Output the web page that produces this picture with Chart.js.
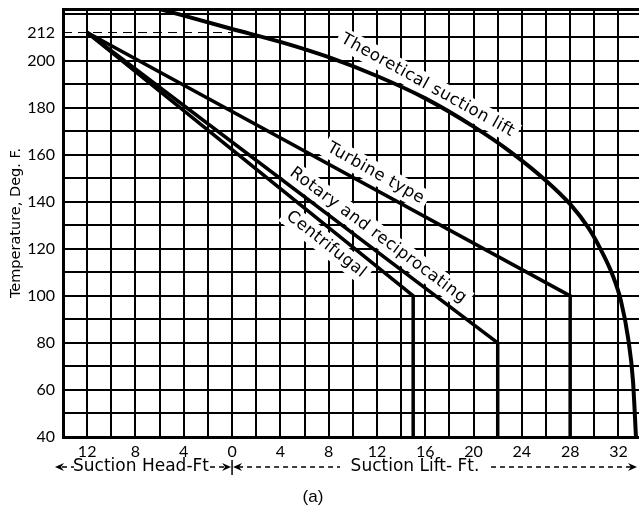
<!DOCTYPE html>
<html lang="en">
<head>
  <meta charset="UTF-8">
  <title>Suction lift vs temperature</title>
  <script src="https://cdn.jsdelivr.net/npm/chart.js@4.4.1/dist/chart.umd.min.js"></script>
  <style>
    html, body { margin: 0; padding: 0; background: #fff; }
    #wrap { width: 639px; height: 515px; }
  </style>
</head>
<body>
  <div id="wrap"><canvas id="liftChart"></canvas></div>
  <script>
    // x = suction lift in ft (negative = suction head), y = water temperature in deg F
    const seriesNames = ["Theoretical suction lift", "Turbine type", "Rotary and reciprocating", "Centrifugal"];
    const theoryLift = [-6.0, 0, 4, 8, 12, 16, 20, 23, 26, 28, 29.5, 30.5, 31.5, 32.2, 32.8, 33.2, 33.45];
    const theoryTemp = [222, 213.5, 208, 201.5, 193.5, 184, 172, 161.5, 149, 139, 129, 120, 109, 98, 82, 64, 40];
    const turbineLift = [-12, 28, 28];
    const turbineTemp = [212, 100, 40];
    const rotaryLift = [-12, 22, 22];
    const rotaryTemp = [212, 80, 40];
    const centrifugalLift = [-12, 15, 15];
    const centrifugalTemp = [212, 100, 40];
    const boilLift = [-14, 0];
    const boilTemp = [212, 212];

    const xTickValues = [-12, -8, -4, 0, 4, 8, 12, 16, 20, 24, 28, 32];
    const yTickLabels = [40, 60, 80, 100, 120, 140, 160, 180, 200, 212];

    const X_MIN = -14, X_MAX = 33.7, Y_MIN = 40, Y_MAX = 222;

    const pts = (xs, ys) => xs.map((x, i) => ({ x: x, y: ys[i] }));

    function lineSet(label, data, width) {
      return {
        label: label,
        data: data,
        showLine: true,
        borderColor: "#000",
        backgroundColor: "#000",
        borderWidth: width,
        pointRadius: 0,
        borderJoinStyle: "miter"
      };
    }

    // labels written along the curves, anchored in data units
    const curveLabels = [
      { text: seriesNames[0], x: 16.2, y: 189.5, angle: 29 },
      { text: seriesNames[1], x: 11.9, y: 152.1, angle: 29.3 },
      { text: "Rotary and reciprocating", x: 12.1, y: 125.7, angle: 36.6 },
      { text: seriesNames[3], x: 7.8, y: 121.9, angle: 38.4 }
    ];

    const labelFont = "16.5px 'DejaVu Sans'";

    const decor = {
      id: "decor",
      beforeDatasetsDraw(chart) {
        const { ctx, scales: { x, y } } = chart;
        ctx.save();
        ctx.font = labelFont;
        ctx.letterSpacing = "0.5px";
        curveLabels.forEach(l => {
          const w = ctx.measureText(l.text).width + 8;
          ctx.save();
          ctx.translate(x.getPixelForValue(l.x), y.getPixelForValue(l.y));
          ctx.rotate(l.angle * Math.PI / 180);
          ctx.fillStyle = "#fff";
          ctx.fillRect(-w / 2, -11, w, 22);
          ctx.restore();
        });
        ctx.restore();
      },
      afterDatasetsDraw(chart) {
        const { ctx, scales: { x, y } } = chart;
        ctx.save();
        ctx.font = labelFont;
        ctx.letterSpacing = "0.5px";
        ctx.fillStyle = "#000";
        ctx.textAlign = "center";
        ctx.textBaseline = "middle";
        curveLabels.forEach(l => {
          ctx.save();
          ctx.translate(x.getPixelForValue(l.x), y.getPixelForValue(l.y));
          ctx.rotate(l.angle * Math.PI / 180);
          ctx.fillText(l.text, 0, 0);
          ctx.restore();
        });
        ctx.restore();
      },
      afterDraw(chart) {
        const { ctx, chartArea, scales: { x } } = chart;
        const ty = 467;
        const x0 = x.getPixelForValue(0);
        ctx.save();
        ctx.fillStyle = "#000";
        ctx.strokeStyle = "#000";
        ctx.font = "17px 'DejaVu Sans'";
        ctx.textAlign = "center";
        ctx.textBaseline = "middle";
        ctx.fillText("Suction Head-Ft", 141, ty);
        ctx.fillText("Suction Lift- Ft.", 415, ty);

        ctx.lineWidth = 1.3;
        ctx.setLineDash([5, 4]);
        ctx.beginPath();
        ctx.moveTo(62, ty); ctx.lineTo(74, ty);
        ctx.moveTo(210, ty); ctx.lineTo(226, ty);
        ctx.moveTo(x0 + 6, ty); ctx.lineTo(340, ty);
        ctx.moveTo(491, ty); ctx.lineTo(632, ty);
        ctx.stroke();
        ctx.setLineDash([]);

        // separator between head and lift
        ctx.lineWidth = 1.5;
        ctx.beginPath();
        ctx.moveTo(x0, ty - 7); ctx.lineTo(x0, ty + 8);
        ctx.stroke();

        function arrow(px, dir) {
          ctx.beginPath();
          ctx.moveTo(px, ty);
          ctx.lineTo(px - dir * 9, ty - 4);
          ctx.lineTo(px - dir * 6, ty);
          ctx.lineTo(px - dir * 9, ty + 4);
          ctx.closePath();
          ctx.fill();
        }
        arrow(55, -1);
        arrow(x0 - 1, 1);
        arrow(x0 + 1, -1);
        arrow(chartArea.right - 2, 1);

        ctx.font = "17px 'Liberation Sans'";
        ctx.fillText("(a)", 313, 497);
        ctx.restore();
      }
    };

    const ctx = document.getElementById("liftChart").getContext("2d");
    new Chart(ctx, {
      type: "scatter",
      data: {
        datasets: [
          Object.assign(lineSet(seriesNames[0], pts(theoryLift, theoryTemp), 4), { cubicInterpolationMode: "monotone" }),
          lineSet(seriesNames[1], pts(turbineLift, turbineTemp), 3.5),
          lineSet(seriesNames[2], pts(rotaryLift, rotaryTemp), 3.5),
          lineSet(seriesNames[3], pts(centrifugalLift, centrifugalTemp), 3.5),
          Object.assign(lineSet("212 F", pts(boilLift, boilTemp), 1), { borderDash: [9, 6] })
        ]
      },
      options: {
        responsive: true,
        maintainAspectRatio: false,
        animation: false,
        devicePixelRatio: 1,
        layout: { padding: { top: 9, right: 0, left: 0, bottom: 0 } },
        plugins: {
          legend: { display: false },
          tooltip: { enabled: false }
        },
        scales: {
          x: {
            type: "linear",
            min: X_MIN,
            max: X_MAX,
            afterBuildTicks: scale => {
              const t = [];
              for (let v = -14; v <= 32; v += 2) t.push({ value: v });
              scale.ticks = t;
            },
            afterFit: scale => {
              scale.height = 78;
              scale.paddingLeft = 0;
              scale.paddingRight = 0;
            },
            ticks: {
              autoSkip: false,
              maxRotation: 0,
              padding: 5,
              color: "#000",
              font: { family: "Lato", size: 16 },
              callback: v => xTickValues.includes(v) ? String(Math.abs(v)) : ""
            },
            grid: { color: "#000", lineWidth: 2, drawTicks: false },
            border: { color: "#000", width: 3 }
          },
          y: {
            type: "linear",
            min: Y_MIN,
            max: Y_MAX,
            afterBuildTicks: scale => {
              const t = [];
              for (let v = 40; v <= 220; v += 10) {
                t.push({ value: v });
                if (v === 210) t.push({ value: 212 });
              }
              t.push({ value: Y_MAX });
              scale.ticks = t;
            },
            afterFit: scale => {
              scale.width = 63;
              scale.paddingTop = 0;
              scale.paddingBottom = 0;
            },
            ticks: {
              autoSkip: false,
              padding: 8,
              color: "#000",
              font: { family: "Lato", size: 16 },
              callback: v => yTickLabels.includes(v) ? String(v) : ""
            },
            grid: {
              drawTicks: false,
              color: c => c.tick && c.tick.value === 212 ? "rgba(0,0,0,0)" : "#000",
              lineWidth: c => c.tick && c.tick.value === Y_MAX ? 3 : 2
            },
            border: { color: "#000", width: 3 },
            title: {
              display: true,
              text: "Temperature, Deg. F.",
              color: "#000",
              font: { family: "DejaVu Sans", size: 14.5 },
              padding: { top: 8, bottom: 0 }
            }
          }
        }
      },
      plugins: [decor]
    });
  </script>
</body>
</html>
